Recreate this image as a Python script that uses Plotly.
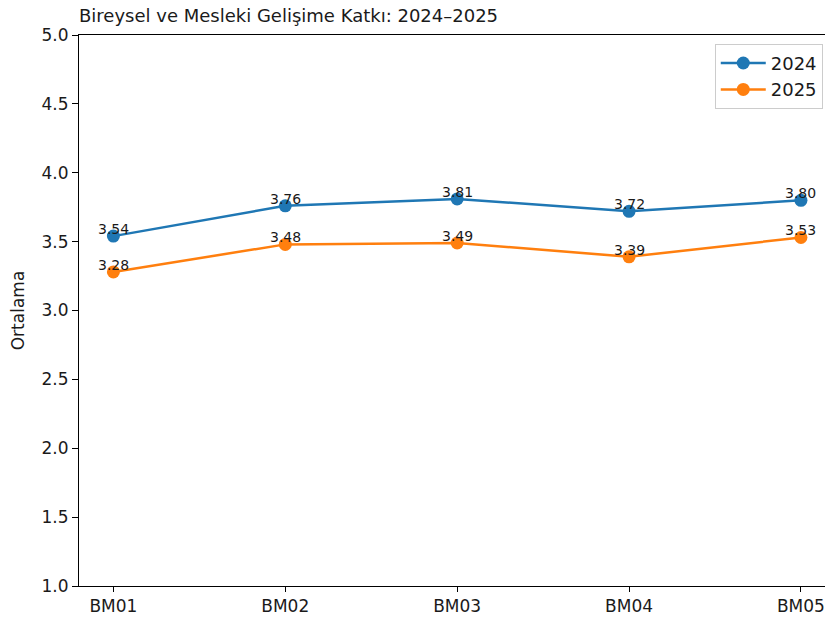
import plotly.graph_objects as go

# Data
categories = ["BM01", "BM02", "BM03", "BM04", "BM05"]
values_2024 = [3.54, 3.76, 3.81, 3.72, 3.80]
values_2025 = [3.28, 3.48, 3.49, 3.39, 3.53]
y_ticks = [1.0, 1.5, 2.0, 2.5, 3.0, 3.5, 4.0, 4.5, 5.0]

series = [("2024", values_2024, "#1f77b4"), ("2025", values_2025, "#ff7f0e")]

W, H = 825, 619

fig = go.Figure()
for name, vals, color in series:
    fig.add_trace(go.Scatter(
        x=list(range(len(categories))), y=vals, mode="lines+markers", name=name,
        line=dict(color=color, width=2.5), marker=dict(color=color, size=13),
    ))
    # value labels sitting just above each point
    for i, v in enumerate(vals):
        fig.add_annotation(x=i, y=v, text=f"{v:.2f}", showarrow=False,
                           yanchor="bottom", xanchor="center", yshift=-3,
                           font=dict(size=14, color="#1a1a1a"))

fig.update_layout(
    width=W, height=H,
    margin=dict(l=79, r=0, t=35, b=33),
    paper_bgcolor="white", plot_bgcolor="white",
    font=dict(family="DejaVu Sans", size=17, color="#1a1a1a"),
    title=dict(text="Bireysel ve Mesleki Gelişime Katkı: 2024–2025",
               x=79 / W, xanchor="left", y=1 - 16 / H, yanchor="middle",
               font=dict(size=18)),
    legend=dict(x=0.997, xanchor="right", y=0.984, yanchor="top",
                bordercolor="#cccccc", borderwidth=1, bgcolor="white",
                font=dict(size=18), itemwidth=45, tracegroupgap=4),
    showlegend=True,
)
fig.update_xaxes(
    range=[-0.2, 4.14], tickvals=list(range(len(categories))), ticktext=categories,
    showline=True, linecolor="black", linewidth=1, mirror=True, automargin=False,
    ticks="outside", ticklen=5, tickcolor="black", showgrid=False, zeroline=False,
)
fig.update_yaxes(
    range=[1.0, 5.0], tickvals=y_ticks, ticktext=[f"{t:.1f}" for t in y_ticks],
    title=dict(text="Ortalama", standoff=12, font=dict(size=17)),
    showline=True, linecolor="black", linewidth=1, automargin=False,
    ticks="outside", ticklen=6, tickcolor="black", showgrid=False, zeroline=False,
)

# drop the default 8px page margin so the figure starts at the window corner
fig.write_html("out.html", config={"displayModeBar": False},
               post_script="document.body.style.margin='0';document.body.style.overflow='hidden';")
